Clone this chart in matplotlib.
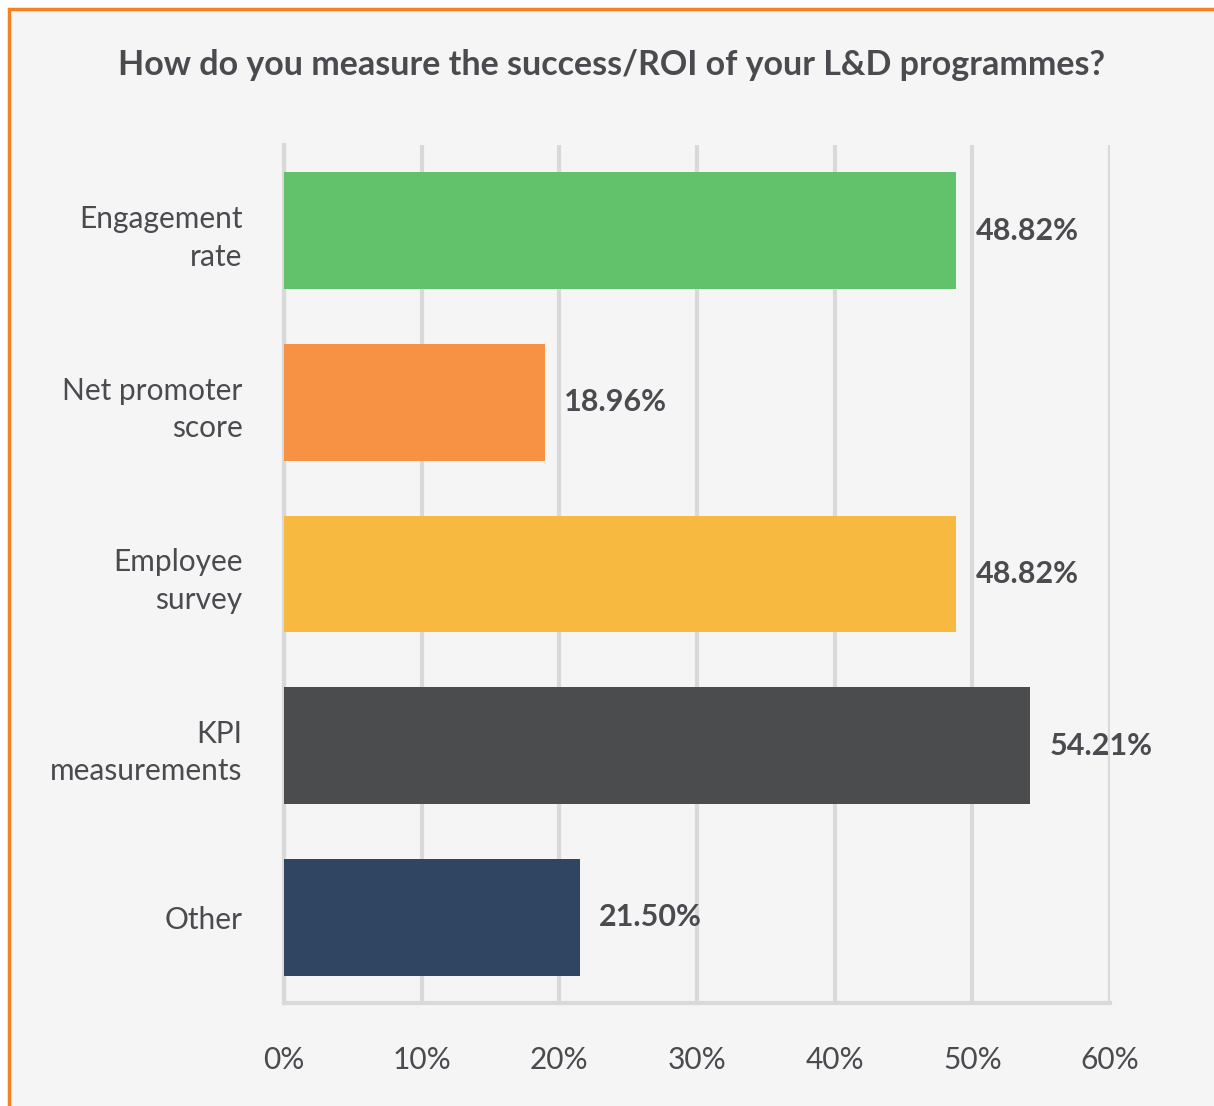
import matplotlib.pyplot as plt
from matplotlib.patches import Rectangle

# données
categories = ['Engagement\nrate', 'Net promoter\nscore', 'Employee\nsurvey', 'KPI\nmeasurements', 'Other']
values = [48.82, 18.96, 48.82, 54.21, 21.50]
colors = ['#62c26b', '#f79244', '#f7b93f', '#4b4c4e', '#2f4562']
ticks = [0, 10, 20, 30, 40, 50, 60]

text_col = '#4a4a4f'
plt.rcParams['font.family'] = ['Lato', 'DejaVu Sans']

fig = plt.figure(figsize=(12.14, 11.06), dpi=100)
fig.patch.set_facecolor('white')

# cadre orange + fond gris
W, H = 1214, 1106
fig.patches.append(Rectangle((9 / W, -0.01), 1.02, (H - 9) / H + 0.01, transform=fig.transFigure,
                             facecolor='#f5f5f5', edgecolor='#f5821f', linewidth=2.5, zorder=-5))

ax = fig.add_axes([284 / W, (H - 1003) / H, (1110 - 284) / W, (1003 - 145) / H])
ax.set_facecolor('none')
ax.set_zorder(2)

y = list(range(len(categories)))
ax.barh(y, values, height=0.68, color=colors, zorder=3)
ax.set_ylim(len(categories) - 0.5, -0.5)
ax.set_xlim(0, 60)

for yi, v in zip(y, values):
    ax.text(v + 1.4, yi, f'{v:.2f}%', va='center', ha='left', fontsize=22,
            fontweight='bold', color=text_col)

ax.set_xticks(ticks)
ax.set_xticklabels([f'{t}%' for t in ticks], fontsize=21.5, color=text_col)
ax.set_yticks(y)
ax.set_yticklabels(categories, fontsize=21.5, color=text_col, ha='right', linespacing=1.4)
ax.tick_params(axis='both', length=0)
ax.tick_params(axis='x', pad=31)
ax.tick_params(axis='y', pad=30)

ax.grid(axis='x', color='#d9d9d9', linewidth=3, zorder=0)
for s in ['top', 'right']:
    ax.spines[s].set_visible(False)
ax.spines['left'].set_color('#d9d9d9')
ax.spines['left'].set_linewidth(3)
ax.spines['bottom'].set_color('#d9d9d9')
ax.spines['bottom'].set_linewidth(3)

fig.text(612 / W, 1 - 65 / H, 'How do you measure the success/ROI of your L&D programmes?',
         ha='center', va='center', fontsize=24.5, fontweight='bold', color=text_col, zorder=3)

plt.savefig('out.png', dpi=100)
